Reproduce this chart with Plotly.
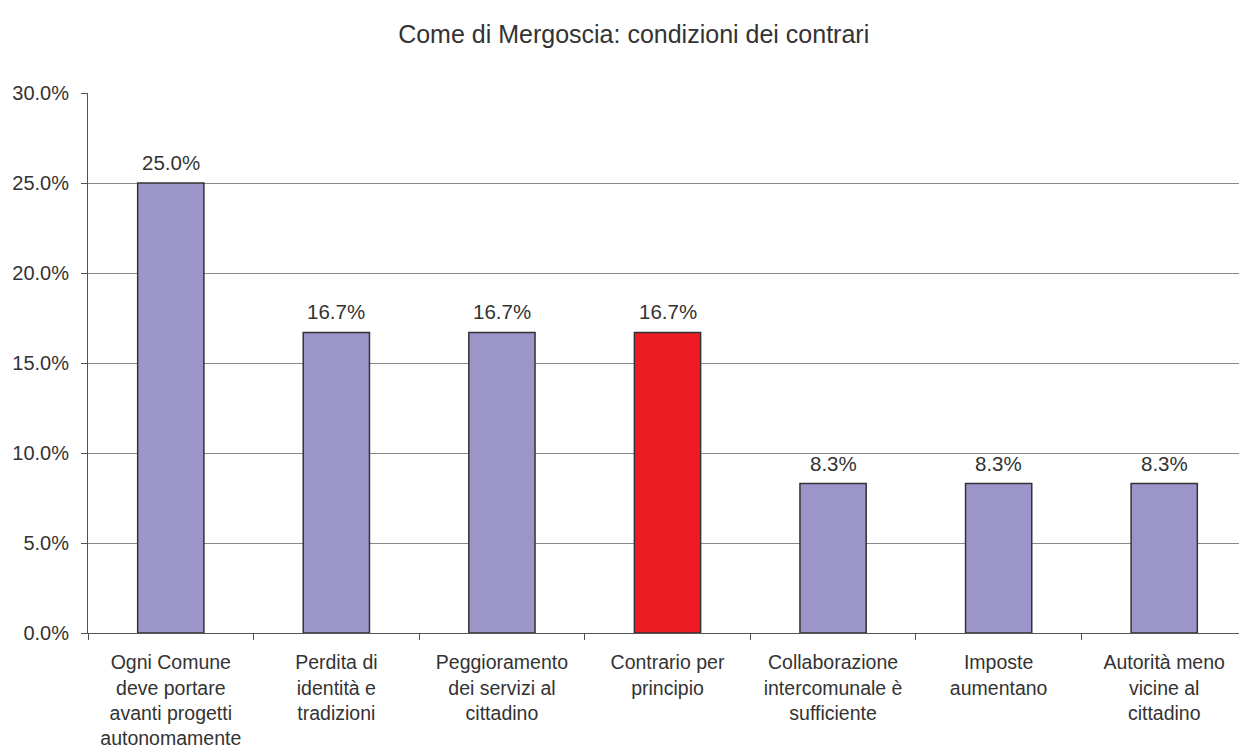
import plotly.graph_objects as go

categories = [
    "Ogni Comune<br>deve portare<br>avanti progetti<br>autonomamente",
    "Perdita di<br>identità e<br>tradizioni",
    "Peggioramento<br>dei servizi al<br>cittadino",
    "Contrario per<br>principio",
    "Collaborazione<br>intercomunale è<br>sufficiente",
    "Imposte<br>aumentano",
    "Autorità meno<br>vicine al<br>cittadino",
]
values = [25.0, 16.7, 16.7, 16.7, 8.3, 8.3, 8.3]
colors = ["#9B95C9", "#9B95C9", "#9B95C9", "#ED1C24", "#9B95C9", "#9B95C9", "#9B95C9"]
labels = [f"{v:.1f}%" for v in values]
yticks = [0, 5, 10, 15, 20, 25, 30]

FONT = "Liberation Sans, Arial"

fig = go.Figure(go.Bar(
    x=categories, y=values,
    marker=dict(color=colors, line=dict(color="#333333", width=1.5)),
    width=0.4,
))

for c, v, t in zip(categories, values, labels):
    fig.add_annotation(x=c, y=v, text=t, showarrow=False, yanchor="bottom",
                       yshift=7, font=dict(family=FONT, size=20.5, color="#333333"))

fig.update_layout(
    width=1239, height=743,
    margin=dict(l=80, r=0, t=85, b=118),
    paper_bgcolor="white", plot_bgcolor="white",
    title=dict(text="Come di Mergoscia: condizioni dei contrari", x=0.505, xref="container",
               xanchor="center", y=1 - 26 / 743, yanchor="middle",
               font=dict(family=FONT, size=25, color="#333333")),
    font=dict(family=FONT, size=19.5, color="#333333"),
    showlegend=False,
)
fig.update_xaxes(
    type="category", tickson="boundaries", ticks="outside", ticklen=6,
    tickcolor="#555555", showline=True, linecolor="#555555", linewidth=1,
    showgrid=False, tickangle=0, automargin=False, ticklabelstandoff=12,
    tickfont=dict(family=FONT, size=19.5, color="#333333"),
)
fig.update_yaxes(
    range=[0, 30], tickvals=yticks, ticktext=[f"{t:.1f}%" for t in yticks],
    ticks="outside", ticklen=6, tickcolor="#555555",
    showline=True, linecolor="#555555", linewidth=1, automargin=False,
    ticklabelstandoff=8,
    tickfont=dict(family=FONT, size=20, color="#333333"),
    showgrid=True, gridcolor="#888888", gridwidth=1, zeroline=False,
)

fig.write_html("out.html")
